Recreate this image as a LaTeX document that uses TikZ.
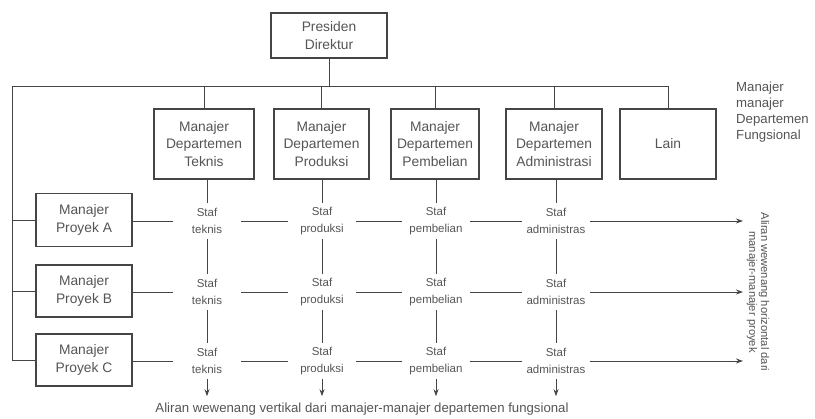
\documentclass[tikz,border=0pt]{standalone}
\usepackage{fontspec}
\setmainfont{Liberation Sans}
\usetikzlibrary{arrows.meta}
\definecolor{ln}{HTML}{454545}
\definecolor{tx}{HTML}{555555}
\begin{document}
\begin{tikzpicture}[x=1pt,y=-1pt,
  box/.style={draw=ln,line width=1.1pt,fill=white,align=center,text=tx,font=\fontsize{13.8}{17.5}\selectfont,inner sep=0pt},
  staf/.style={align=center,text=tx,font=\fontsize{11.5}{16.5}\selectfont,minimum width=68pt,minimum height=36pt,inner sep=0pt},
  conn/.style={draw=ln,line width=0.9pt},
  arr/.style={conn,-{Stealth[length=7pt,width=5pt]}}]
\useasboundingbox (0,0) rectangle (815,419);
% top
\node[box,minimum width=116pt,minimum height=45pt] (pd) at (329,35.5) {Presiden\\Direktur};
% departments
\node[box,minimum width=100pt,minimum height=70pt] (dt) at (204,144) {Manajer\\Departemen\\Teknis};
\node[box,minimum width=95pt,minimum height=70pt] (dp) at (321.5,144) {Manajer\\Departemen\\Produksi};
\node[box,minimum width=88pt,minimum height=70pt] (db) at (435,144) {Manajer\\Departemen\\Pembelian};
\node[box,minimum width=96pt,minimum height=70pt] (da) at (554,144) {Manajer\\Departemen\\Administrasi};
\node[box,minimum width=96pt,minimum height=70pt] (dl) at (668,144) {Lain};
\node[align=left,anchor=north west,text=tx,font=\fontsize{13.2}{16}\selectfont,inner sep=0pt] (lbl) at (736,82) {Manajer\\manajer\\Departemen\\Fungsional};
% bus
\coordinate (bl) at (12,86);
\coordinate (br) at (668,86);
\draw[conn] (pd.south) -- (329,86);
\draw[conn] (12,360) -- (bl) -- (br) -- (dl.north);
\foreach \d in {dt,dp,db,da} \draw[conn] (\d.north |- bl) -- (\d.north);
% projects
\node[box,minimum width=96pt,minimum height=53pt] (pa) at (84,220) {Manajer\\Proyek A};
\node[box,minimum width=96pt,minimum height=52pt] (pb) at (84,291) {Manajer\\Proyek B};
\node[box,minimum width=96pt,minimum height=52pt] (pc) at (84,360) {Manajer\\Proyek C};
\draw[conn] (pa.west -| bl) -- (pa.west);
\draw[conn] (pb.west -| bl) -- (pb.west);
\draw[conn] (pc.west -| bl) -- (pc.west);
% staff
\foreach \r/\y in {a/221,b/292,c/361}{
  \node[staf] (t\r) at (207,\y) {Staf\\teknis};
  \node[staf] (s\r) at (322,\y) {Staf\\produksi};
  \node[staf] (b\r) at (436,\y) {Staf\\pembelian};
  \node[staf] (m\r) at (556,\y) {Staf\\administras};
  \coordinate (e\r) at (743,\y);
}
\foreach \r in {a,b,c}{
  \draw[conn] (p\r.east |- t\r) -- (t\r.west);
  \draw[conn] (t\r.east) -- (s\r.west);
  \draw[conn] (s\r.east) -- (b\r.west);
  \draw[conn] (b\r.east) -- (m\r.west);
  \draw[arr] (m\r.east) -- (e\r);
}
\foreach \c/\d in {t/dt,s/dp,b/db,m/da}{
  \draw[conn] (\d.south -| \c a) -- (\c a.north);
  \draw[conn] (\c a.south) -- (\c b.north);
  \draw[conn] (\c b.south) -- (\c c.north);
}
\node[text=tx,font=\fontsize{13.2}{15}\selectfont,inner sep=0pt] (bot) at (362,409) {Aliran wewenang vertikal dari manajer-manajer departemen fungsional};
\draw[arr] (tc.south) -- ++(0,17);
\draw[arr] (sc.south) -- ++(0,17);
\draw[arr] (bc.south) -- ++(0,17);
\draw[arr] (mc.south) -- ++(0,17);
\node[rotate=-90,align=center,text=tx,font=\fontsize{11.2}{12}\selectfont,inner sep=0pt] (rt) at (758,292) {Aliran wewenang horizontal dari\\manajer-manajer proyek};
\end{tikzpicture}
\end{document}
